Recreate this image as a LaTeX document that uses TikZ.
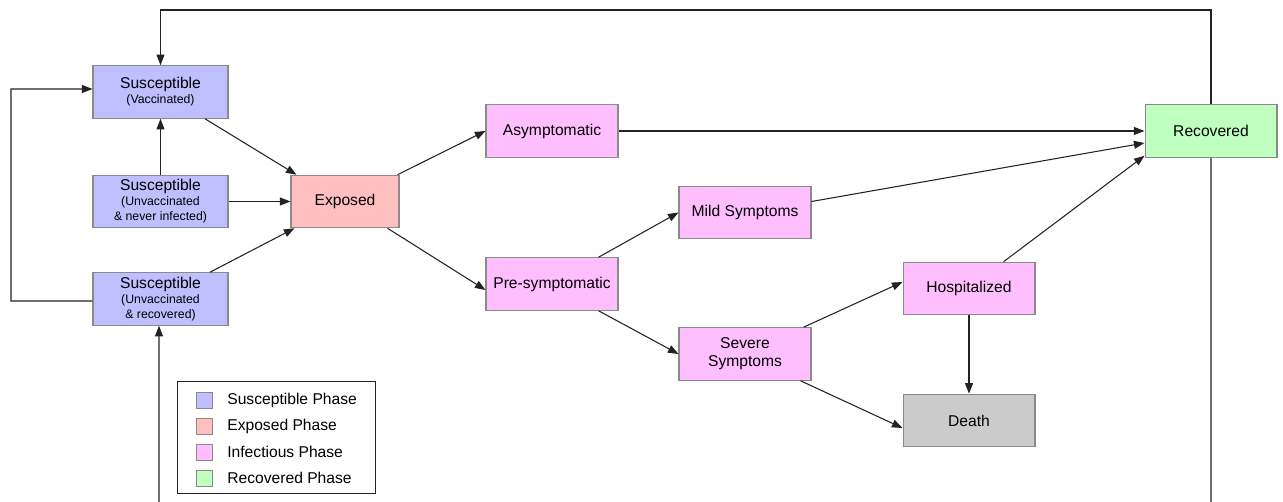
\documentclass[tikz,border=0pt]{standalone}
\usepackage{fontspec}
\setmainfont{Liberation Sans}
\usetikzlibrary{arrows.meta,calc}
\definecolor{suscol}{HTML}{BFBFFF}
\definecolor{expcol}{HTML}{FFBFBF}
\definecolor{infcol}{HTML}{FFBFFF}
\definecolor{reccol}{HTML}{BFFFBF}
\definecolor{deathcol}{HTML}{CBCBCB}
\definecolor{boxborder}{HTML}{8A8A8A}
\definecolor{linecol}{HTML}{222222}
\newcommand{\boxfnt}{\fontsize{8.9}{8.6}\selectfont}
\newcommand{\twofnt}{\fontsize{8.9}{10.2}\selectfont}
\newcommand{\subfnt}{\fontsize{7}{8.6}\selectfont}
\begin{document}
\begin{tikzpicture}[x=0.02cm,y=-0.02cm,
  box/.style={draw=boxborder, line width=0.6pt, minimum width=2.7cm, minimum height=1.05cm, inner sep=0pt, align=center, font=\boxfnt},
  sus/.style={box, fill=suscol},
  expo/.style={box, fill=expcol, minimum width=2.16cm},
  inf/.style={box, fill=infcol, minimum width=2.64cm},
  rec/.style={box, fill=reccol, minimum width=2.64cm},
  dead/.style={box, fill=deathcol, minimum width=2.64cm},
  arr/.style={-{Triangle[length=6pt,width=4.5pt]}, line width=0.6pt, draw=linecol},
  swatch/.style={draw=boxborder, line width=0.5pt, minimum width=0.32cm, minimum height=0.32cm, inner sep=0pt},
  legtext/.style={anchor=west, font=\boxfnt, inner sep=0pt}]
\useasboundingbox (0,0) rectangle (1283,502);
\clip (0,0) rectangle (1283,502);

\node[sus] (SV) at (160.5,92) {Susceptible\\{\subfnt (Vaccinated)}};
\node[sus] (SU) at (160.5,201.5) {Susceptible\\{\subfnt (Unvaccinated}\\{\subfnt \& never infected)}};
\node[sus] (SR) at (160.5,299) {Susceptible\\{\subfnt (Unvaccinated}\\{\subfnt \& recovered)}};
\node[expo] (EX) at (345,201.5) {Exposed};
\node[inf] (AS) at (552,131) {Asymptomatic};
\node[inf] (PS) at (552,284) {Pre-symptomatic};
\node[inf] (MI) at (745,212.5) {Mild Symptoms};
\node[inf, font=\twofnt] (SE) at (745,354) {Severe\\Symptoms};
\node[inf] (HO) at (969,288.5) {Hospitalized};
\node[dead] (DE) at (969,420.5) {Death};
\node[rec] (RE) at (1211,131) {Recovered};

% loops
\coordinate (topR) at (1211,10);
\coordinate (topL) at (160.5,10);
\draw[arr] (RE.north) -- (topR) -- (topL) -- (SV.north);
\coordinate (leftB) at (11,301);
\coordinate (leftT) at (11,89);
\draw[arr] ([yshift=-0.04cm]SR.west) -- (leftB) -- (leftT) -- ([yshift=0.06cm]SV.west);
\coordinate (botR) at (1211,520);
\coordinate (botL) at (159,520);
\draw[arr] (RE.south) -- (botR) -- (botL) -- ([xshift=-0.03cm]SR.south);

% susceptible to exposed
\draw[arr] (SU.north) -- (SV.south);
\draw[arr] (SU.east) -- (EX.west);
\draw[arr] ([xshift=0.89cm]SV.south) -- ([xshift=0.12cm]EX.north west);
\draw[arr] ([xshift=0.99cm]SR.north) -- ([xshift=0.08cm]EX.south west);

% exposed onward
\draw[arr] ([xshift=-0.04cm]EX.north east) -- (AS.west);
\draw[arr] ([xshift=-0.24cm]EX.south east) -- ([yshift=-0.12cm]PS.west);
\draw[arr] (AS.east) -- (RE.west);
\draw[arr] ([xshift=-0.4cm]PS.north east) -- (MI.west);
\draw[arr] ([xshift=-0.4cm]PS.south east) -- (SE.west);
\draw[arr] ([yshift=0.22cm]MI.east) -- ([yshift=-0.24cm]RE.west);
\draw[arr] ([xshift=-0.16cm]SE.north east) -- ([yshift=0.13cm]HO.west);
\draw[arr] ([xshift=-0.22cm]SE.south east) -- ([yshift=-0.15cm]DE.west);
\draw[arr] (HO.south) -- (DE.north);
\draw[arr] ([xshift=-0.64cm]HO.north east) -- ([yshift=0.04cm]RE.south west);

% legend
\node[draw=linecol, line width=0.5pt, minimum width=3.96cm, minimum height=2.24cm, inner sep=0pt] (LEG) at (276,437) {};
\node[swatch, fill=suscol] (L1) at (204,400) {};
\node[swatch, fill=expcol] (L2) at (204,426) {};
\node[swatch, fill=infcol] (L3) at (204,452) {};
\node[swatch, fill=reccol] (L4) at (204,478) {};
\node[legtext] (T1) at (227,400) {Susceptible Phase};
\node[legtext] (T2) at (227,426) {Exposed Phase};
\node[legtext] (T3) at (227,452) {Infectious Phase};
\node[legtext] (T4) at (227,478) {Recovered Phase};
\end{tikzpicture}
\end{document}
